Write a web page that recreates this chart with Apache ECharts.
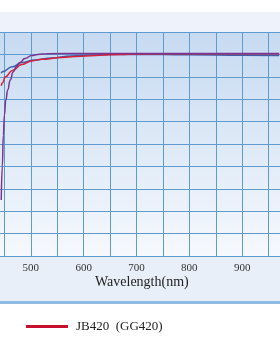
<!DOCTYPE html>
<html>
<head>
<meta charset="utf-8">
<script src="https://cdn.jsdelivr.net/npm/echarts@6/dist/echarts.min.js"></script>
<style>html,body{margin:0;padding:0;background:#fff;overflow:hidden;}#c{position:absolute;left:-25px;top:0;width:323px;height:364px;}</style>
</head>
<body>
<div id="c"></div>
<script>
// Wavelength (nm) / transmittance (%) samples
const redWl   = [444, 446, 452, 465, 483, 502, 520, 558, 595, 632, 669, 700, 800, 900, 970];
const redT    = [76.0, 77.2, 80.0, 82.8, 85.5, 87.1, 87.8, 88.6, 89.2, 89.6, 90.0, 90.2, 90.3, 90.3, 90.3];
const blueWl  = [444, 446, 465, 483, 507, 539, 576, 613, 650, 700, 800, 900, 970];
const blueT   = [81.6, 82.3, 84.5, 86.4, 87.5, 88.4, 89.3, 89.7, 90.0, 90.0, 89.8, 89.6, 89.5];
const purpWl  = [444, 446, 448, 450, 452.6, 456.3, 461, 466.5, 472, 479.5, 488.8, 502, 513, 530, 600, 700, 800, 900, 970];
const purpT   = [25, 40, 54, 63, 69.6, 74.1, 78.6, 82.1, 84.4, 86.4, 88.2, 89.5, 90.0, 90.3, 90.4, 90.4, 90.4, 90.4, 90.4];
const xTicks  = [500, 600, 700, 800, 900];
const legendName = 'JB420  (GG420)';

function pairs(xs, ys) { return xs.map((x, i) => [x, ys[i]]); }

const OFF = 25; // chart div is shifted 25px left of the window
const chart = echarts.init(document.getElementById('c'), null, {renderer: 'canvas'});
chart.setOption({
  animation: false,
  backgroundColor: '#ffffff',
  graphic: [
    {type: 'rect', z: -10, shape: {x: 0, y: 12, width: 324, height: 20}, style: {fill: '#eef2fa'}},
    {type: 'rect', z: -10, shape: {x: 0, y: 256, width: 324, height: 45}, style: {fill: '#e8eff9'}},
    {type: 'rect', z: -10, shape: {x: 0, y: 301, width: 324, height: 3}, style: {fill: '#8dbbe3'}},
    {type: 'rect', z: -10, shape: {x: 0, y: 32, width: 324, height: 224},
      style: {fill: new echarts.graphic.LinearGradient(0, 0, 0, 1, [
        {offset: 0, color: '#c6daf1'}, {offset: 1, color: '#f6f9fd'}])}},
    {type: 'text', left: OFF + 95, top: 275,
      style: {text: 'Wavelength(nm)', font: '14px "Liberation Serif", serif', fill: '#222'}}
  ],
  grid: {left: 0, right: 0, top: 32, bottom: 108, containLabel: false, show: false},
  xAxis: {
    type: 'value', min: 400, max: 1000, interval: 50,
    axisLine: {show: false}, axisTick: {show: false},
    splitLine: {show: true, lineStyle: {color: '#5e9ccf', width: 1}},
    axisLabel: {
      show: true, margin: 7, color: '#333',
      fontFamily: 'Liberation Serif', fontSize: 11,
      formatter: v => (xTicks.indexOf(v) >= 0 ? String(v) : '')
    }
  },
  yAxis: {
    type: 'value', min: 0, max: 100, interval: 10,
    axisLine: {show: false}, axisTick: {show: false}, axisLabel: {show: false},
    splitLine: {show: true, lineStyle: {color: '#5e9ccf', width: 1}}
  },
  legend: {
    data: [legendName], left: OFF + 21, top: 315,
    icon: 'rect', itemWidth: 42, itemHeight: 3,
    textStyle: {fontFamily: 'Liberation Serif', fontSize: 13, color: '#222', padding: [0, 0, 0, 3]}
  },
  series: [
    {name: 'blue', type: 'line', smooth: true, smoothMonotone: 'x', symbol: 'none', data: pairs(blueWl, blueT),
      lineStyle: {color: '#3d5ea8', width: 1.5}, itemStyle: {color: '#3d5ea8'}},
    {name: legendName, type: 'line', smooth: true, smoothMonotone: 'x', symbol: 'none', data: pairs(redWl, redT),
      lineStyle: {color: '#d8203a', width: 1.5}, itemStyle: {color: '#c8102e'}},
    {name: 'purple', type: 'line', smooth: true, smoothMonotone: 'x', symbol: 'none', data: pairs(purpWl, purpT),
      lineStyle: {color: '#7b3591', width: 1.5}, itemStyle: {color: '#7b3591'}}
  ]
});
</script>
</body>
</html>
